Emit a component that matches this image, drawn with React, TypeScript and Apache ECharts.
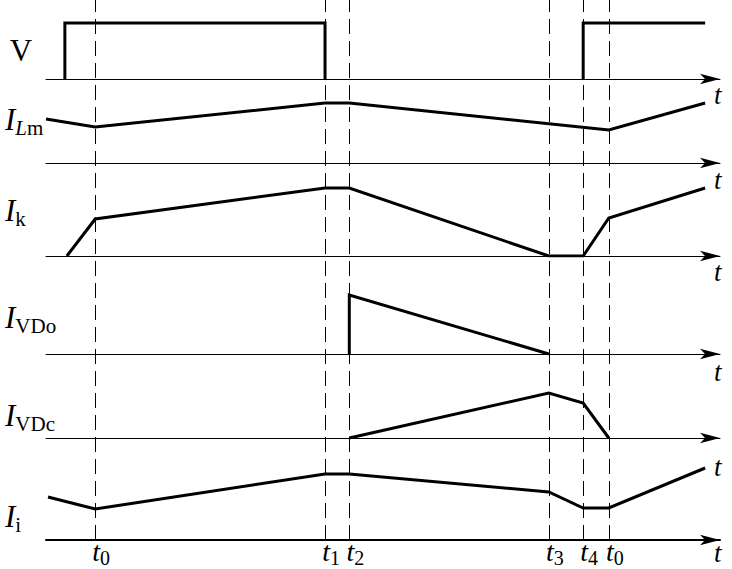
import React, { useEffect, useRef } from "react";
import * as echarts from "echarts";

// ---- data (time axis 0..100, amplitude in arbitrary units above each baseline) ----
const timeMarks = [7.3, 41.4, 45.0, 74.6, 79.7, 83.5]; // t0, t1, t2, t3, t4, t0
const timeSubs = ["0", "1", "2", "3", "4", "0"];

const vPulseA = [[2.8, 0], [2.8, 56], [41.4, 56], [41.4, 0]];
const vPulseB = [[79.7, 0], [79.7, 56], [97.8, 56]];
const iLm = [[0, 44], [7.3, 36], [41.4, 60], [45.0, 60], [83.5, 33], [97.8, 60]];
const iK = [[3.1, 0], [7.3, 37], [41.4, 68], [45.0, 68], [74.6, 0], [79.7, 0], [83.5, 38], [97.8, 68]];
const iVDo = [[45.0, 0], [45.0, 59], [74.6, 0]];
const iVDc = [[45.0, 0], [74.6, 45], [79.7, 35], [83.5, 0]];
const iI = [[0.3, 43], [7.3, 31], [41.4, 66], [45.0, 66], [74.6, 48], [79.7, 32], [83.5, 32], [97.8, 72]];

// ---- layout ----
const SERIF = "'Liberation Serif','Times New Roman',serif";
const baselines = [79, 163, 256, 354, 438, 540];
const PANEL_H = 76;
const LEFT = 46;
const RIGHT = 12;
const namePad = [32, 34, 32, 36, 58, 26];

export default function App() {
  const ref = useRef<HTMLDivElement>(null);
  useEffect(() => {
    if (!ref.current) return;
    const chart = echarts.init(ref.current, null, { renderer: "svg" });

    const grids: any[] = baselines.map((b) => ({
      left: LEFT, right: RIGHT, top: b - PANEL_H, height: PANEL_H, outerBoundsMode: "none",
    }));
    grids.push({ left: LEFT, right: RIGHT, top: 0, height: 540, outerBoundsMode: "none" });

    const xAxes: any[] = baselines.map((_, i) => ({
      type: "value", gridIndex: i, min: 0, max: 100,
      name: "{n|t}", nameLocation: "end", nameGap: -6,
      nameTextStyle: {
        align: "left", verticalAlign: "middle",
        rich: {
          n: {
            fontFamily: SERIF, fontStyle: "italic", fontSize: 27, lineHeight: 27, color: "#000",
            padding: [namePad[i], 0, 0, 0],
          },
        },
      },
      axisLine: {
        show: true, onZero: false,
        symbol: ["none", "arrow"], symbolSize: [8, 20],
        lineStyle: { color: "#000", width: i === 5 ? 2 : 1 },
      },
      axisTick: { show: false },
      splitLine: { show: false },
      axisLabel: i === 5
        ? {
            show: true, customValues: timeMarks, margin: -3, padding: [0, 0, 0, 12],
            formatter: (v: number) => {
              const k = timeMarks.findIndex((m) => Math.abs(m - v) < 1e-6);
              return `{t|t}{s|${k >= 0 ? timeSubs[k] : ""}}`;
            },
            rich: {
              t: { fontFamily: SERIF, fontStyle: "italic", fontSize: 28, lineHeight: 28, color: "#000" },
              s: { fontFamily: SERIF, fontSize: 20, lineHeight: 20, padding: [14, 0, 0, 0], color: "#000" },
            },
          }
        : { show: false },
    }));
    xAxes.push({ type: "value", gridIndex: 6, min: 0, max: 100, show: false });

    const yAxes: any[] = baselines.map((_, i) => ({
      type: "value", gridIndex: i, min: 0, max: PANEL_H, show: false,
    }));
    yAxes.push({ type: "value", gridIndex: 6, min: 0, max: 1, show: false });

    const lineSeries = (idx: number, data: number[][]) => ({
      type: "line", xAxisIndex: idx, yAxisIndex: idx, data,
      showSymbol: false, symbol: "none", silent: true,
      lineStyle: { color: "#000", width: 3, join: "miter" },
    });

    const series: any[] = [
      lineSeries(0, vPulseA),
      lineSeries(0, vPulseB),
      lineSeries(1, iLm),
      lineSeries(2, iK),
      lineSeries(3, iVDo),
      lineSeries(4, iVDc),
      lineSeries(5, iI),
      {
        type: "line", xAxisIndex: 6, yAxisIndex: 6, data: [], silent: true,
        markLine: {
          silent: true, symbol: ["none", "none"], label: { show: false },
          lineStyle: { color: "#000", type: [15, 7], width: 1 },
          emphasis: { disabled: true },
          data: timeMarks.map((x) => ({ xAxis: x })),
        },
      },
    ];

    const richI = {
      I: { fontFamily: SERIF, fontStyle: "italic", fontSize: 31, lineHeight: 31, fill: "#000" },
      si: { fontFamily: SERIF, fontStyle: "italic", fontSize: 21, lineHeight: 21, padding: [18, 0, 0, 0], fill: "#000" },
      s: { fontFamily: SERIF, fontSize: 21, lineHeight: 21, padding: [18, 0, 0, 0], fill: "#000" },
    };
    const leftLabels = [
      { text: "{I|I}{si|L}{s|m}", y: 119 },
      { text: "{I|I}{s|k}", y: 210 },
      { text: "{I|I}{s|VDo}", y: 317 },
      { text: "{I|I}{s|VDc}", y: 415 },
      { text: "{I|I}{s|i}", y: 516 },
    ];

    const graphic: any[] = [
      {
        type: "text", x: 21, y: 50, silent: true,
        style: { text: "V", fontFamily: SERIF, fontSize: 31, fill: "#000", align: "center", verticalAlign: "middle" },
      },
      ...leftLabels.map((l) => ({
        type: "text", x: 5, y: l.y, silent: true,
        style: { text: l.text, rich: richI, align: "left", verticalAlign: "middle", fill: "#000" },
      })),
    ];

    chart.setOption({
      animation: false,
      backgroundColor: "#fff",
      grid: grids,
      xAxis: xAxes,
      yAxis: yAxes,
      series,
      graphic,
    });
    return () => chart.dispose();
  }, []);
  return (
    <div
      ref={ref}
      style={{ position: "fixed", left: 0, top: 0, width: 732, height: 569, background: "#fff" }}
    />
  );
}
